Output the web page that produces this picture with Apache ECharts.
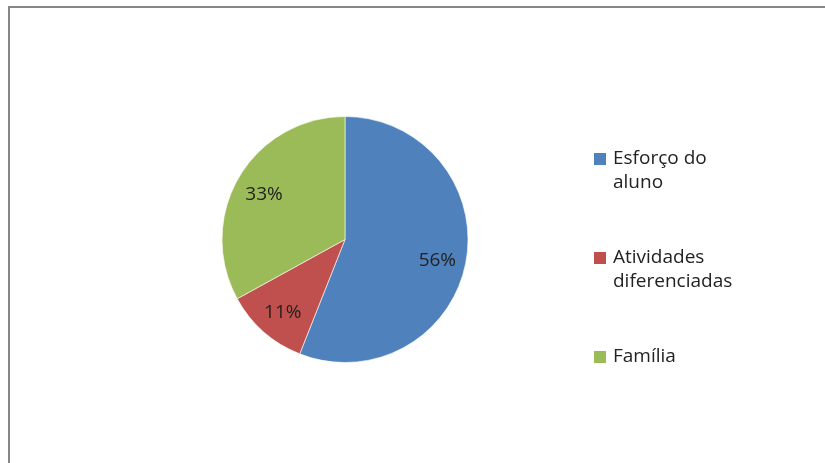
<!DOCTYPE html>
<html>
<head>
<meta charset="utf-8">
<script src="https://cdn.jsdelivr.net/npm/echarts@6/dist/echarts.min.js"></script>
<style>
  html, body { margin: 0; padding: 0; background: #fff; }
  #chart { width: 825px; height: 463px; }
</style>
</head>
<body>
<div id="chart"></div>
<script>
const categories = ['Esforço do aluno', 'Atividades diferenciadas', 'Família']
const legendLabels = ['Esforço do\naluno', 'Atividades\ndiferenciadas', 'Família']
const values = [56, 11, 33]
const colors = ['#4F81BD', '#C0504D', '#9BBB59']

const radius = 123
// Excel puts inside labels at ~3/4 of the radius, echarts at 1/2
let total = values.reduce((a, b) => a + b, 0)
let acc = 0
const pieData = values.map((v, i) => {
  let mid = 90 - (acc + v / 2) / total * 360
  acc += v
  let rad = mid * Math.PI / 180
  let k = radius * 0.24
  return {
    name: categories[i],
    value: v,
    itemStyle: { color: colors[i] },
    label: { offset: [Math.cos(rad) * k, -Math.sin(rad) * k + 3] }
  }
})

// square marker sits on the first text line (like Excel)
const twoLineIcon = 'path://M0,0h12v12h-12z M0,36h0.01'
const oneLineIcon = 'path://M0,0h12v12h-12z'
const legendData = categories.map((c, i) => ({
  name: c,
  icon: legendLabels[i].indexOf('\n') >= 0 ? twoLineIcon : oneLineIcon
}))

let chart = echarts.init(document.getElementById('chart'))

chart.setOption({
  animation: false,
  graphic: [
    {
      type: 'rect',
      shape: { x: 9, y: 7, width: 900, height: 600 },
      style: { fill: 'none', stroke: '#878787', lineWidth: 2 }
    }
  ],
  legend: {
    orient: 'vertical',
    left: 594,
    top: 147,
    padding: 0,
    itemWidth: 12,
    itemHeight: 36,
    itemGap: 51,
    symbolKeepAspect: true,
    itemStyle: { borderWidth: 0 },
    data: legendData,
    formatter: function (name) {
      return legendLabels[categories.indexOf(name)]
    },
    textStyle: {
      fontFamily: 'Open Sans',
      fontSize: 19,
      color: '#222',
      lineHeight: 24,
      padding: [0, 0, 0, 2]
    }
  },
  series: [
    {
      type: 'pie',
      center: [345, 239.5],
      radius: radius,
      startAngle: 90,
      clockwise: true,
      itemStyle: { borderColor: '#fff', borderWidth: 0.6 },
      label: {
        position: 'inside',
        formatter: '{c}%',
        fontFamily: 'Open Sans',
        fontSize: 19,
        color: '#222'
      },
      labelLine: { show: false },
      emphasis: { disabled: true },
      data: pieData
    }
  ]
})
</script>
</body>
</html>
